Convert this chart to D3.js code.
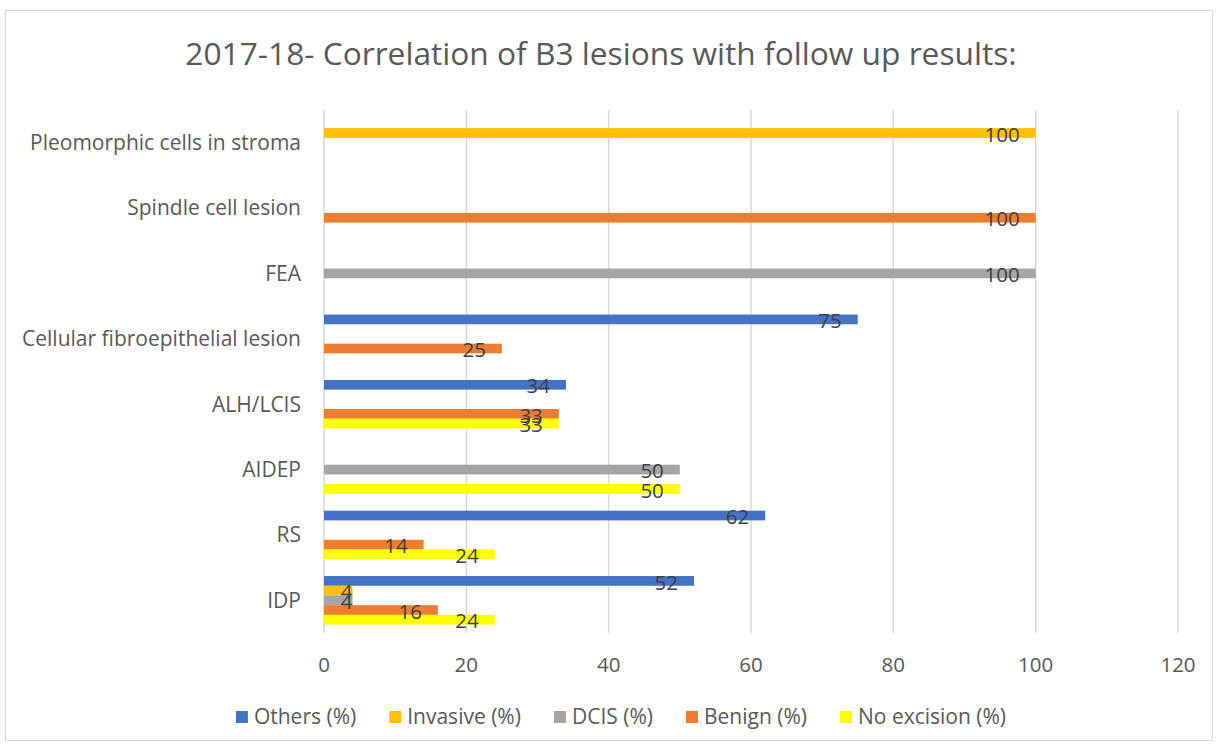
<!DOCTYPE html>
<html>
<head>
<meta charset="utf-8">
<script src="https://cdn.jsdelivr.net/npm/d3@7"></script>
<style>
  body { margin: 0; background: #fff; }
  text { font-family: "Open Sans", sans-serif; }
</style>
</head>
<body>
<script>
var width = 1219, height = 747;

// categories listed top to bottom as drawn
var categories = ['Pleomorphic cells in stroma', 'Spindle cell lesion', 'FEA',
  'Cellular fibroepithelial lesion', 'ALH/LCIS', 'AIDEP', 'RS', 'IDP'];
var seriesNames = ['Others (%)', 'Invasive (%)', 'DCIS (%)', 'Benign (%)', 'No excision (%)'];
var seriesColors = ['#4472C4', '#FFC000', '#A5A5A5', '#ED7D31', '#FFFF00'];

// values per series, same order as categories
var others     = [0, 0, 0, 75, 34, 0, 62, 52];
var invasive   = [100, 0, 0, 0, 0, 0, 0, 4];
var dcis       = [0, 0, 100, 0, 0, 50, 0, 4];
var benign     = [0, 100, 0, 25, 33, 0, 14, 16];
var noExcision = [0, 0, 0, 0, 33, 50, 24, 24];
var xTicks = [0, 20, 40, 60, 80, 100, 120];

var seriesValues = [others, invasive, dcis, benign, noExcision];

var svg = d3.select('body').append('svg').attr('width', width).attr('height', height);

// chart border
svg.append('rect').attr('x', 5.5).attr('y', 10.5).attr('width', 1207).attr('height', 730)
  .attr('fill', '#fff').attr('stroke', '#d9d9d9').attr('stroke-width', 1);

svg.append('text').attr('x', 601).attr('y', 65).attr('text-anchor', 'middle')
  .attr('font-size', '31.7px').attr('fill', '#595959')
  .text('2017-18- Correlation of B3 lesions with follow up results:');

var x = d3.scaleLinear().domain([0, 120]).range([324, 1178]);
var y = d3.scaleBand().domain(categories).range([110, 633]).paddingInner(0.258).paddingOuter(0.129);
var ySub = d3.scaleBand().domain(seriesNames).range([0, y.bandwidth()]);

// gridlines
svg.append('g').selectAll('line').data(xTicks).enter().append('line')
  .attr('x1', d => x(d)).attr('x2', d => x(d))
  .attr('y1', 110).attr('y2', 633)
  .attr('stroke', '#d9d9d9').attr('stroke-width', 1.5);

// x tick labels
svg.append('g').selectAll('text').data(xTicks).enter().append('text')
  .attr('x', d => x(d)).attr('y', 672).attr('text-anchor', 'middle')
  .attr('font-size', '20.5px').attr('fill', '#595959').text(d => d);

// category labels
svg.append('g').selectAll('text').data(categories).enter().append('text')
  .attr('x', 301).attr('y', d => y(d) + y.bandwidth() / 2).attr('dy', '0.35em')
  .attr('text-anchor', 'end').attr('font-size', '21px').attr('fill', '#595959').text(d => d);

// bars
var flat = [];
seriesNames.forEach((s, si) => {
  categories.forEach((c, ci) => {
    if (seriesValues[si][ci] > 0) flat.push({ s: s, si: si, c: c, v: seriesValues[si][ci] });
  });
});

svg.append('g').selectAll('rect').data(flat).enter().append('rect')
  .attr('x', x(0)).attr('y', d => y(d.c) + ySub(d.s))
  .attr('width', d => x(d.v) - x(0)).attr('height', ySub.bandwidth())
  .attr('fill', d => seriesColors[d.si]);

// data labels, inside end
svg.append('g').selectAll('text').data(flat).enter().append('text')
  .attr('x', d => (x(d.v) - x(0) > 60) ? x(d.v) - 16 : x(d.v))
  .attr('y', d => y(d.c) + ySub(d.s) + ySub.bandwidth() / 2 + 1.5).attr('dy', '0.35em')
  .attr('text-anchor', 'end').attr('font-size', '20.5px').attr('fill', '#404040')
  .text(d => d.v);

// legend
var legend = svg.append('g');
var items = legend.selectAll('g').data(seriesNames).enter().append('g');
items.append('rect').attr('width', 12).attr('height', 12).attr('y', -6)
  .attr('fill', (d, i) => seriesColors[i]);
items.append('text').attr('x', 18).attr('dy', '0.35em')
  .attr('font-size', '21px').attr('fill', '#595959').text(d => d);
var pos = 0, offsets = [];
items.each(function () {
  offsets.push(pos);
  pos += 18 + d3.select(this).select('text').node().getComputedTextLength() + 33;
});
var total = pos - 33;
var startX = 621 - total / 2;
items.attr('transform', (d, i) => 'translate(' + (startX + offsets[i]) + ',717)');
</script>
</body>
</html>
